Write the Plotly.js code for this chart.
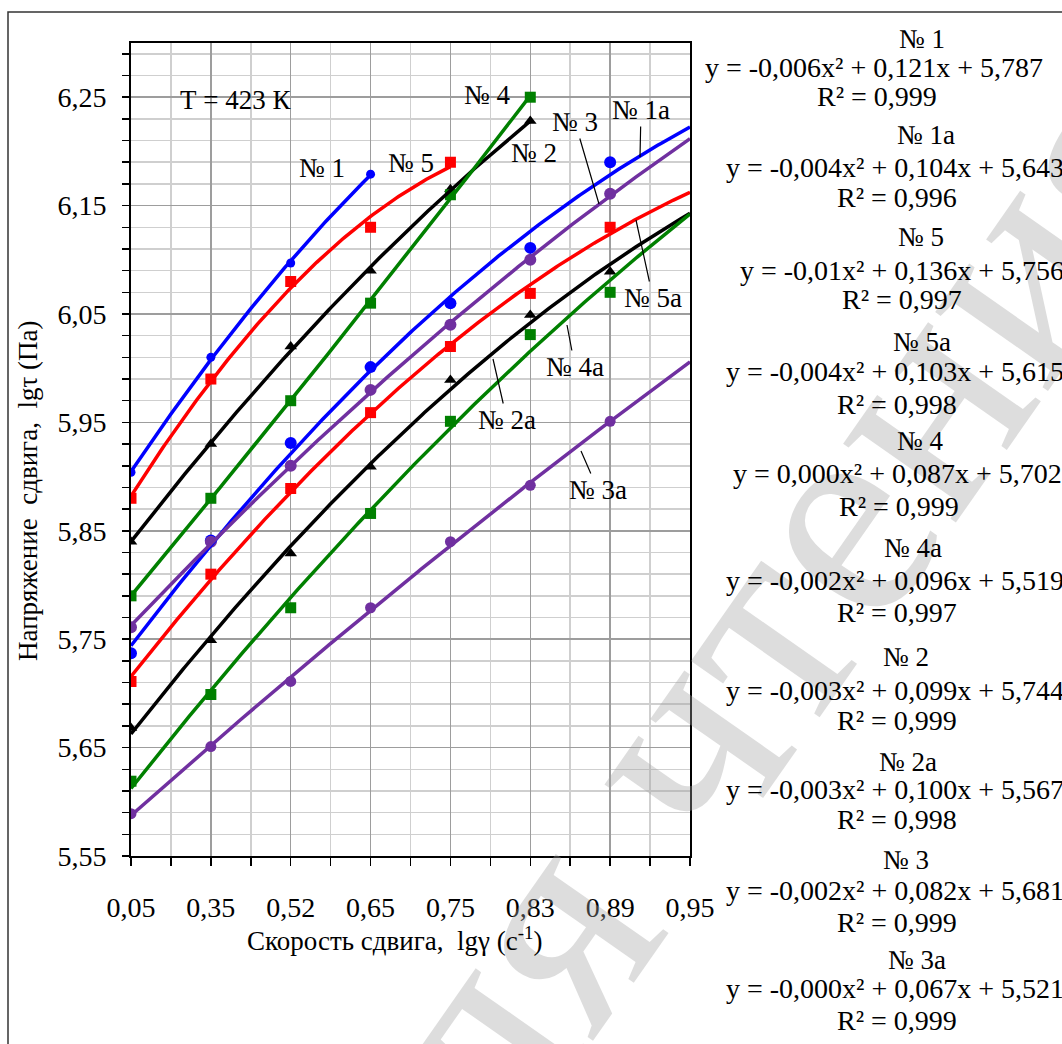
<!DOCTYPE html>
<html><head><meta charset="utf-8">
<script src="https://cdn.plot.ly/plotly-3.0.1.min.js"></script>
<style>html,body{margin:0;padding:0;background:#fff;}#chart{width:1062px;height:1044px;}</style>
</head><body><div id="chart"></div>
<script>
// ---- data (x positions are category indices of the shear-rate labels) ----
const xLabels = ['0,05','0,35','0,52','0,65','0,75','0,83','0,89','0,95'];
const xIndex  = [0,1,2,3,4,5,6,7];

const s1  = [5.904, 6.010, 6.097, 6.179];
const s5  = [5.880, 5.990, 6.080, 6.130, 6.190];
const s2  = [5.840, 5.930, 6.020, 6.090, 6.165, 6.228];
const s4  = [5.790, 5.880, 5.970, 6.060, 6.160, 6.250];
const s1a = [5.737, 5.841, 5.931, 6.001, 6.060, 6.111, 6.190];
const s3  = [5.761, 5.840, 5.910, 5.980, 6.040, 6.100, 6.161];
const s5a = [5.711, 5.810, 5.889, 5.959, 6.020, 6.069, 6.130];
const s2a = [5.668, 5.749, 5.829, 5.909, 5.989, 6.049, 6.089];
const s4a = [5.619, 5.699, 5.779, 5.866, 5.951, 6.031, 6.070];
const s3a = [5.589, 5.651, 5.711, 5.779, 5.840, 5.892, 5.951];

const eqNames = ['№ 1','№ 1а','№ 5','№ 5а','№ 4','№ 4а','№ 2','№ 2а','№ 3','№ 3а'];
const eqTexts = ['y = -0,006x² + 0,121x + 5,787','y = -0,004x² + 0,104x + 5,643','y = -0,01x² + 0,136x + 5,756',
  'y = -0,004x² + 0,103x + 5,615','y = 0,000x² + 0,087x + 5,702','y = -0,002x² + 0,096x + 5,519',
  'y = -0,003x² + 0,099x + 5,744','y = -0,003x² + 0,100x + 5,567','y = -0,002x² + 0,082x + 5,681',
  'y = -0,000x² + 0,067x + 5,521'];
const r2Texts = ['R² = 0,999','R² = 0,996','R² = 0,997','R² = 0,998','R² = 0,999','R² = 0,997','R² = 0,999','R² = 0,998','R² = 0,999','R² = 0,999'];

// ---- helpers ----
function quadFit(ys){
  const n=ys.length; let S=[0,0,0,0,0], T=[0,0,0];
  for(let i=0;i<n;i++){const x=i; for(let k=0;k<5;k++) S[k]+=Math.pow(x,k); for(let k=0;k<3;k++) T[k]+=ys[i]*Math.pow(x,k);}
  const A=[[S[0],S[1],S[2],T[0]],[S[1],S[2],S[3],T[1]],[S[2],S[3],S[4],T[2]]];
  for(let c=0;c<3;c++){let p=c;for(let r=c+1;r<3;r++) if(Math.abs(A[r][c])>Math.abs(A[p][c])) p=r;
    [A[c],A[p]]=[A[p],A[c]];
    for(let r=0;r<3;r++){ if(r===c) continue; const f=A[r][c]/A[c][c]; for(let k=c;k<4;k++) A[r][k]-=f*A[c][k]; }}
  return [A[0][3]/A[0][0],A[1][3]/A[1][1],A[2][3]/A[2][2]];
}
function fitLine(ys,xEnd){
  const c=quadFit(ys), xs=[], yv=[];
  for(let i=0;i<=Math.round(xEnd*40);i++){const x=i/40; xs.push(x); yv.push(c[0]+c[1]*x+c[2]*x*x);}
  return {xs,yv};
}
const BLUE='#0000ff', RED='#ff0000', BLACK='#000000', GREEN='#008000', PURPLE='#7030a0';
const series = [
  {y:s1,  c:BLUE,   m:'circle',      sz:9,  ext:false},
  {y:s5,  c:RED,    m:'square',      sz:11, ext:false},
  {y:s2,  c:BLACK,  m:'triangle-up', sz:11, ext:false},
  {y:s4,  c:GREEN,  m:'square',      sz:11, ext:false},
  {y:s1a, c:BLUE,   m:'circle',      sz:12, ext:true},
  {y:s3,  c:PURPLE, m:'circle',      sz:12, ext:true},
  {y:s5a, c:RED,    m:'square',      sz:11, ext:true},
  {y:s2a, c:BLACK,  m:'triangle-up', sz:11, ext:true},
  {y:s4a, c:GREEN,  m:'square',      sz:11, ext:true},
  {y:s3a, c:PURPLE, m:'circle',      sz:11, ext:true}
];
const traces=[];
series.forEach(s=>{
  traces.push({type:'scatter',mode:'markers',x:xIndex.slice(0,s.y.length),y:s.y,
    marker:{color:s.c,symbol:s.m,size:s.sz,line:{width:0}},hoverinfo:'skip'});
});
series.forEach(s=>{
  const f=fitLine(s.y, s.ext?7:s.y.length-1);
  traces.push({type:'scatter',mode:'lines',x:f.xs,y:f.yv,line:{color:s.c,width:3.5},hoverinfo:'skip'});
});

// pixel -> paper helpers for annotation placement
const PL=131, PR=690, PT=43, PB=856;
const px=p=>(p-PL)/(PR-PL), py=p=>(PB-p)/(PB-PT);
const FONT='Liberation Serif, Times New Roman, serif';

const ann=[];
// watermark
ann.push({xref:'paper',yref:'paper',x:px(735),y:py(662),text:'для чтения',showarrow:false,textangle:-55,
  font:{family:FONT,size:300,color:'rgba(160,160,160,0.36)'},xanchor:'center',yanchor:'middle'});
// axis titles
ann.push({xref:'paper',yref:'paper',x:px(394),y:py(939),text:'Скорость сдвига,\u00a0 lgγ (с<sup>-1</sup>)',showarrow:false,
  font:{family:FONT,size:27},xanchor:'center',yanchor:'middle'});
ann.push({xref:'paper',yref:'paper',x:px(28),y:py(491),text:'Напряжение\u00a0 сдвига,\u00a0 lgτ (Па)',showarrow:false,textangle:-90,
  font:{family:FONT,size:27},xanchor:'center',yanchor:'middle'});
// plain labels
[['Т = 423 К',235,100],['№ 1',322,168],['№ 5',411,163],['№ 4',487,95],['№ 2',534,153]].forEach(l=>{
  ann.push({xref:'paper',yref:'paper',x:px(l[1]),y:py(l[2]),text:l[0],showarrow:false,font:{family:FONT,size:27},xanchor:'center',yanchor:'middle'});
});
// labels with leader lines: [text, labelX, labelY, pointX, pointY]
[['№ 1а',641,110,640,157],['№ 3',575,122,599,204],['№ 5а',653,298,636,220],
 ['№ 4а',575,367,567,325],['№ 2а',507,420,493,359],['№ 3а',598,490,581,451]].forEach(l=>{
  ann.push({xref:'paper',yref:'paper',x:px(l[3]),y:py(l[4]),ax:l[1]-l[3],ay:l[2]-l[4],text:l[0],showarrow:true,
    arrowhead:0,arrowwidth:1.2,arrowcolor:'#000',standoff:0,font:{family:FONT,size:27}});
});
// trendline equation block
const nameX=[922,926,921,922,920,913,906,908,906,917];
const nameY=[39,135,237,342,441,548,657,762,860,960];
const eqX=[703,724,738,724,731,724,724,724,724,724];
const eqY=[67,167,270,372,474,580,690,789,890,988];
const r2X=[815,835,840,835,837,835,835,835,835,835];
const r2Y=[96,197,299,404,506,612,720,819,922,1020];
for(let i=0;i<eqNames.length;i++){
  ann.push({xref:'paper',yref:'paper',x:px(nameX[i]),y:py(nameY[i]),text:eqNames[i],showarrow:false,font:{family:FONT,size:27},xanchor:'center',yanchor:'middle'});
  ann.push({xref:'paper',yref:'paper',x:px(eqX[i]),y:py(eqY[i]),text:eqTexts[i],showarrow:false,font:{family:FONT,size:28},xanchor:'left',yanchor:'middle'});
  ann.push({xref:'paper',yref:'paper',x:px(r2X[i]),y:py(r2Y[i]),text:r2Texts[i],showarrow:false,font:{family:FONT,size:28},xanchor:'left',yanchor:'middle'});
}

const layout={
  width:1062,height:1044,
  margin:{l:PL,r:1062-PR,t:PT,b:1044-PB,pad:0},
  paper_bgcolor:'#fff',plot_bgcolor:'#fff',
  separators:', ',showlegend:false,
  font:{family:FONT,color:'#000',size:28},
  xaxis:{range:[0,7],tickmode:'array',tickvals:xIndex,ticktext:xLabels,
    ticks:'outside',ticklen:8,tickwidth:1.5,tickcolor:'#000',ticklabelstandoff:17,
    showline:true,linecolor:'#000',linewidth:2,mirror:true,zeroline:false,
    showgrid:true,gridcolor:'#9d9d9d',gridwidth:1.5,tickfont:{size:28},
    minor:{tickmode:'linear',tick0:0,dtick:0.5,ticks:'outside',ticklen:8,tickwidth:1.5,tickcolor:'#000',showgrid:true,gridcolor:'#cfcfcf',gridwidth:1.5}},
  yaxis:{range:[5.55,6.30],tickmode:'linear',tick0:5.55,dtick:0.1,tickformat:'.2f',
    ticks:'outside',ticklen:7,tickwidth:1.5,tickcolor:'#000',ticklabelstandoff:10,
    showline:true,linecolor:'#000',linewidth:2,mirror:true,zeroline:false,
    showgrid:true,gridcolor:'#9d9d9d',gridwidth:1.5,tickfont:{size:28},
    minor:{tickmode:'linear',tick0:5.55,dtick:0.02,ticks:'outside',ticklen:7,tickwidth:1.5,tickcolor:'#000',showgrid:true,gridcolor:'#cfcfcf',gridwidth:1.5}},
  shapes:[{type:'rect',xref:'paper',yref:'paper',x0:px(8),x1:px(1080),y0:py(1060),y1:py(12),line:{color:'#333',width:1.5},fillcolor:'rgba(0,0,0,0)',layer:'below'}],
  annotations:ann
};
Plotly.newPlot('chart',traces,layout,{displayModeBar:false,staticPlot:true});
</script></body></html>
